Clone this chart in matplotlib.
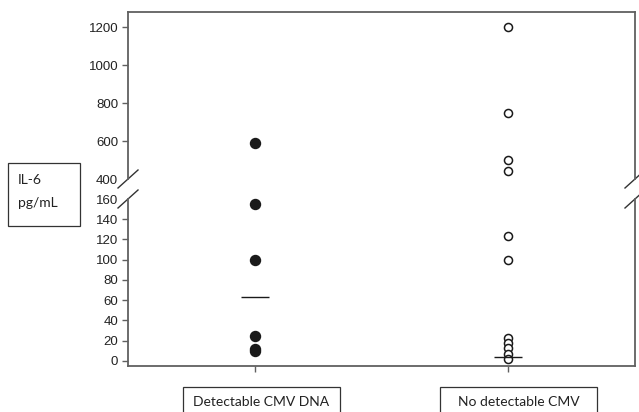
import matplotlib
matplotlib.use("Agg")
import matplotlib.pyplot as plt
from matplotlib.patches import Rectangle

# data
groups = [1, 2]
group_labels = ["Detectable CMV DNA", "No detectable CMV"]
detectable = [590, 155, 100, 25, 12, 10]
not_detectable = [1200, 750, 500, 440, 123, 100, 23, 18, 13, 7, 2]
medians = [63, 4]

low_ticks = [0, 20, 40, 60, 80, 100, 120, 140, 160]
high_ticks = [400, 600, 800, 1000, 1200]

spine_col = "#606060"
W, H = 639, 412

fig = plt.figure(figsize=(W / 100, H / 100), dpi=100)
left = 128 / W
width = (635 - 128) / W
ax_hi = fig.add_axes([left, (H - 179) / H, width, 167 / H])
ax_lo = fig.add_axes([left, (H - 366) / H, width, 167 / H])

ax_hi.set_ylim(400, 1279)
ax_lo.set_ylim(-5, 160)

for ax in (ax_hi, ax_lo):
    ax.set_xlim(0.5, 2.5)
    for s in ax.spines.values():
        s.set_color(spine_col)
        s.set_linewidth(1.3)
    ax.tick_params(axis="y", direction="out", length=4, width=1, color=spine_col,
                   labelsize=9.5, labelcolor="#222222", pad=3)

ax_hi.spines["bottom"].set_visible(False)
ax_lo.spines["top"].set_visible(False)
ax_hi.set_xticks([])
ax_lo.set_xticks(groups)
ax_lo.set_xticklabels([])
ax_lo.tick_params(axis="x", direction="out", length=4, width=1, color=spine_col)
ax_hi.set_yticks(high_ticks)
ax_lo.set_yticks(low_ticks)
for ax in (ax_hi, ax_lo):
    for lab in ax.get_yticklabels():
        lab.set_family("Liberation Sans")

# no tick marks at the break itself
ax_hi.yaxis.get_major_ticks()[0].tick1line.set_visible(False)
ax_lo.yaxis.get_major_ticks()[-1].tick1line.set_visible(False)

# points split between the two panels
for ax, lo, hi in ((ax_lo, -10, 160), (ax_hi, 400, 1300)):
    d = [v for v in detectable if lo <= v <= hi]
    n = [v for v in not_detectable if lo <= v <= hi]
    ax.plot([groups[0]] * len(d), d, "o", color="#1a1a1a", ms=7.2, clip_on=False)
    ax.plot([groups[1]] * len(n), n, "o", mfc="white", mec="#1a1a1a", mew=1.1,
            ms=5.8, clip_on=False)

ax_lo.hlines(medians, [g - 0.055 for g in groups], [g + 0.055 for g in groups],
             color="#1a1a1a", lw=1.0)

# break marks
dx, dy = 10 / 507, 9 / 167
kw = dict(color="#333333", lw=1.0, clip_on=False)
for x in (0, 1):
    ax_hi.plot([x - dx, x + dx], [-dy, dy], transform=ax_hi.transAxes, **kw)
    ax_lo.plot([x - dx, x + dx], [1 - dy, 1 + dy], transform=ax_lo.transAxes, **kw)

# boxed labels
def px_box(x0, y0, x1, y1):
    r = Rectangle((x0 / W, 1 - y1 / H), (x1 - x0) / W, (y1 - y0) / H,
                  transform=fig.transFigure, fill=False, ec="#333333", lw=0.9,
                  clip_on=False)
    fig.add_artist(r)

px_box(8, 163, 80, 226)
fig.text(18 / W, 1 - 180 / H, "IL-6", family="Lato", fontsize=10, color="#222222",
         va="center", ha="left")
fig.text(18 / W, 1 - 203 / H, "pg/mL", family="Lato", fontsize=10, color="#222222",
         va="center", ha="left")

px_box(183, 387, 340, 420)
px_box(440, 387, 597, 420)
fig.text(261.5 / W, 1 - 402 / H, group_labels[0], family="Lato", fontsize=10,
         color="#222222", va="center", ha="center")
fig.text(518.5 / W, 1 - 402 / H, group_labels[1], family="Lato", fontsize=10,
         color="#222222", va="center", ha="center")

fig.savefig("out.png", dpi=100)
